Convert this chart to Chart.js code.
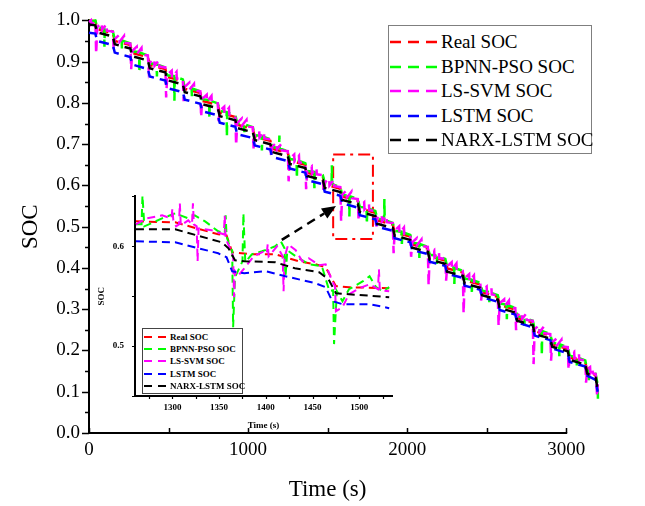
<!DOCTYPE html>
<html>
<head>
<meta charset="utf-8">
<title>SOC estimation</title>
<script src="https://cdn.jsdelivr.net/npm/chart.js@4.4.1/dist/chart.umd.min.js"></script>
<style>
  body { margin: 0; background: #fff; }
  #wrap { position: relative; width: 645px; height: 506px; }
  #wrap canvas { position: absolute; }
  .legend { position: absolute; background: #fff; font-family: "Liberation Serif", serif; color: #000; }
  .legend .row { position: absolute; display: flex; align-items: center; white-space: nowrap; transform: translateY(-50%); }
  .legend svg { display: block; }
  #mainLegend { left: 388px; top: 25px; width: 202px; height: 127px; border: 1px solid #7f7f7f; font-size: 19px; }
  #insetLegend { left: 142px; top: 328px; width: 99px; height: 64px; border: 1px solid #444; font-size: 9px; font-weight: bold; }
</style>
</head>
<body>
<div id="wrap">
  <canvas id="main" width="645" height="506" style="left:0;top:0"></canvas>
  <canvas id="inset" width="310" height="260" style="left:95px;top:180px"></canvas>
  <div id="mainLegend" class="legend"></div>
  <div id="insetLegend" class="legend"></div>
</div>
<script>
// ---- main chart data (time in s, SOC) ----
const mainTime = [0, 40, 52, 150, 162, 260, 272, 370, 382, 480, 492, 590, 602, 700, 712, 810, 822, 920, 932,
  1030, 1042, 1140, 1152, 1250, 1262, 1360, 1372, 1470, 1482, 1580, 1592, 1690, 1702, 1800, 1812, 1910, 1922,
  2020, 2032, 2130, 2142, 2240, 2252, 2350, 2362, 2460, 2472, 2570, 2582, 2680, 2692, 2790, 2802, 2900, 2912,
  3010, 3022, 3120, 3132, 3185, 3198];
const realSoc = [1.000, 0.998, 0.979, 0.969, 0.950, 0.940, 0.921, 0.911, 0.892, 0.882, 0.863, 0.853, 0.834, 0.824, 0.805,
  0.795, 0.776, 0.766, 0.747, 0.737, 0.718, 0.708, 0.689, 0.679, 0.660, 0.650, 0.631, 0.621, 0.602, 0.592, 0.573,
  0.563, 0.544, 0.534, 0.515, 0.505, 0.486, 0.476, 0.457, 0.447, 0.428, 0.418, 0.399, 0.389, 0.370, 0.360, 0.341,
  0.330, 0.310, 0.299, 0.279, 0.268, 0.247, 0.236, 0.215, 0.204, 0.183, 0.172, 0.150, 0.140, 0.112];
const narxSoc = [0.990, 0.988, 0.971, 0.961, 0.942, 0.932, 0.913, 0.903, 0.884, 0.874, 0.855, 0.845, 0.826, 0.816, 0.797,
  0.787, 0.768, 0.758, 0.739, 0.729, 0.710, 0.700, 0.681, 0.671, 0.652, 0.642, 0.623, 0.613, 0.594, 0.584, 0.565,
  0.555, 0.536, 0.526, 0.507, 0.497, 0.478, 0.468, 0.449, 0.439, 0.420, 0.410, 0.391, 0.381, 0.362, 0.352, 0.334,
  0.323, 0.303, 0.292, 0.272, 0.261, 0.240, 0.229, 0.209, 0.198, 0.177, 0.166, 0.144, 0.134, 0.106];
const lstmSoc = [0.970, 0.968, 0.950, 0.940, 0.922, 0.911, 0.893, 0.882, 0.864, 0.854, 0.836, 0.826, 0.808, 0.798, 0.780,
  0.770, 0.752, 0.742, 0.724, 0.715, 0.697, 0.687, 0.669, 0.659, 0.641, 0.631, 0.613, 0.603, 0.585, 0.575, 0.557,
  0.546, 0.528, 0.518, 0.500, 0.490, 0.472, 0.462, 0.443, 0.434, 0.415, 0.405, 0.386, 0.376, 0.357, 0.347, 0.329,
  0.318, 0.298, 0.287, 0.268, 0.256, 0.236, 0.225, 0.205, 0.193, 0.172, 0.161, 0.139, 0.129, 0.100];

const bpnnTime = [0, 20, 40, 52,
  95, 97, 99, 150, 162, 205, 207, 209, 260, 272, 315, 317, 319, 370, 382, 425, 427, 429, 480, 492,
  535, 537, 539, 590, 602, 645, 647, 649, 700, 712, 755, 757, 759, 810, 822, 865, 867, 869, 920, 932,
  975, 977, 979, 1030, 1042, 1085, 1087, 1089, 1140, 1152, 1195, 1197, 1199, 1250, 1262,
  1305, 1307, 1309, 1360, 1372, 1415, 1417, 1419, 1470, 1482, 1525, 1527, 1529, 1580, 1592,
  1635, 1637, 1639, 1690, 1702, 1745, 1747, 1749, 1800, 1812, 1855, 1857, 1859, 1910, 1922,
  1965, 1967, 1969, 2020, 2032, 2075, 2077, 2079, 2130, 2142, 2185, 2187, 2189, 2240, 2252,
  2295, 2297, 2299, 2350, 2362, 2405, 2407, 2409, 2460, 2472, 2515, 2517, 2519, 2570, 2582,
  2625, 2627, 2629, 2680, 2692, 2735, 2737, 2739, 2790, 2802, 2845, 2847, 2849, 2900, 2912,
  2955, 2957, 2959, 3010, 3022, 3065, 3067, 3069, 3120, 3132, 3140, 3142, 3144, 3185, 3198, 3200];
const bpnnSoc = [1.000, 0.998, 1.000, 0.983,
  0.981, 0.936, 0.980, 0.973, 0.954, 0.952, 0.932, 0.951, 0.944, 0.925, 0.923, 0.873, 0.922, 0.915, 0.896,
  0.894, 0.864, 0.893, 0.886, 0.867, 0.865, 0.805, 0.864, 0.857, 0.838, 0.836, 0.816, 0.835, 0.828, 0.809,
  0.807, 0.762, 0.806, 0.799, 0.780, 0.778, 0.718, 0.777, 0.770, 0.751, 0.749, 0.729, 0.748, 0.741, 0.722,
  0.720, 0.685, 0.719, 0.712, 0.693, 0.691, 0.721, 0.690, 0.683, 0.664,
  0.662, 0.617, 0.661, 0.654, 0.635, 0.633, 0.593, 0.632, 0.625, 0.606, 0.604, 0.649, 0.603, 0.596, 0.577,
  0.575, 0.525, 0.574, 0.567, 0.548, 0.546, 0.506, 0.545, 0.538, 0.519, 0.517, 0.567, 0.516, 0.509, 0.490,
  0.488, 0.458, 0.487, 0.480, 0.461, 0.459, 0.424, 0.458, 0.451, 0.432, 0.430, 0.410, 0.429, 0.422, 0.403,
  0.401, 0.361, 0.400, 0.393, 0.374, 0.372, 0.342, 0.371, 0.364, 0.345, 0.342, 0.317, 0.341, 0.334, 0.314,
  0.311, 0.276, 0.310, 0.303, 0.283, 0.280, 0.260, 0.279, 0.272, 0.251, 0.248, 0.188, 0.247, 0.240, 0.219,
  0.216, 0.186, 0.215, 0.208, 0.187, 0.184, 0.164, 0.183, 0.176, 0.154, 0.152, 0.122, 0.151, 0.144, 0.116, 0.075];

const lssvmTime = [0, 12, 14, 40, 45, 52,
  80, 82, 110, 112, 150, 155, 162, 190, 192, 220, 222, 260, 265, 272,
  300, 302, 330, 332, 370, 375, 382, 410, 412, 440, 442, 480, 485, 492,
  520, 522, 550, 552, 590, 595, 602, 630, 632, 660, 662, 700, 705, 712,
  740, 742, 770, 772, 810, 815, 822, 850, 852, 880, 882, 920, 925, 932,
  960, 962, 990, 992, 1030, 1035, 1042, 1070, 1072, 1100, 1102, 1140, 1145, 1152,
  1180, 1182, 1210, 1212, 1250, 1255, 1262, 1290, 1292, 1320, 1322, 1360, 1365, 1372,
  1400, 1402, 1430, 1432, 1470, 1475, 1482, 1510, 1512, 1540, 1542, 1580, 1585, 1592,
  1620, 1622, 1650, 1652, 1690, 1695, 1702, 1730, 1732, 1760, 1762, 1800, 1805, 1812,
  1840, 1842, 1870, 1872, 1910, 1915, 1922, 1950, 1952, 1980, 1982, 2020, 2025, 2032,
  2060, 2062, 2090, 2092, 2130, 2135, 2142, 2170, 2172, 2200, 2202, 2240, 2245, 2252,
  2280, 2282, 2310, 2312, 2350, 2355, 2362, 2390, 2392, 2420, 2422, 2460, 2465, 2472,
  2500, 2502, 2530, 2532, 2570, 2575, 2582, 2610, 2612, 2640, 2642, 2680, 2685, 2692,
  2720, 2722, 2750, 2752, 2790, 2795, 2802, 2830, 2832, 2860, 2862, 2900, 2905, 2912,
  2940, 2942, 2970, 2972, 3010, 3015, 3022, 3050, 3052, 3080, 3082, 3120, 3125, 3132,
  3150, 3152, 3165, 3167, 3185, 3195, 3198];
const lssvmSoc = [0.996, 1.000, 0.990, 0.998, 0.919, 0.984,
  0.994, 0.977, 0.991, 0.975, 0.973, 0.930, 0.955, 0.965, 0.948, 0.962, 0.946, 0.944, 0.881, 0.926,
  0.936, 0.919, 0.933, 0.917, 0.915, 0.882, 0.897, 0.907, 0.890, 0.904, 0.888, 0.886, 0.813, 0.868,
  0.878, 0.861, 0.875, 0.859, 0.857, 0.804, 0.839, 0.849, 0.832, 0.846, 0.830, 0.828, 0.765, 0.810,
  0.820, 0.803, 0.817, 0.801, 0.799, 0.756, 0.781, 0.791, 0.774, 0.788, 0.772, 0.770, 0.697, 0.752,
  0.762, 0.745, 0.759, 0.743, 0.741, 0.688, 0.723, 0.733, 0.716, 0.730, 0.714, 0.712, 0.669, 0.694,
  0.704, 0.687, 0.701, 0.685, 0.683, 0.610, 0.665, 0.675, 0.658, 0.672, 0.656, 0.654, 0.591, 0.636,
  0.646, 0.629, 0.643, 0.627, 0.625, 0.582, 0.607, 0.617, 0.600, 0.614, 0.598, 0.596, 0.513, 0.578,
  0.588, 0.571, 0.585, 0.569, 0.567, 0.514, 0.549, 0.559, 0.542, 0.556, 0.540, 0.538, 0.495, 0.520,
  0.530, 0.513, 0.527, 0.511, 0.509, 0.436, 0.491, 0.501, 0.484, 0.498, 0.482, 0.480, 0.427, 0.462,
  0.472, 0.455, 0.469, 0.453, 0.451, 0.358, 0.433, 0.443, 0.426, 0.440, 0.424, 0.422, 0.369, 0.404,
  0.414, 0.397, 0.411, 0.395, 0.393, 0.290, 0.375, 0.385, 0.368, 0.382, 0.366, 0.364, 0.321, 0.346,
  0.355, 0.338, 0.352, 0.336, 0.334, 0.260, 0.315, 0.324, 0.307, 0.321, 0.305, 0.303, 0.249, 0.284,
  0.293, 0.276, 0.290, 0.274, 0.272, 0.167, 0.252, 0.261, 0.244, 0.258, 0.242, 0.240, 0.175, 0.220,
  0.229, 0.212, 0.226, 0.210, 0.208, 0.153, 0.188, 0.197, 0.180, 0.194, 0.178, 0.176, 0.122, 0.155,
  0.160, 0.147, 0.158, 0.145, 0.143, 0.088, 0.118];

// ---- zoomed-in window (inset) ----
const inRealTime = [1261, 1303, 1349, 1358, 1364, 1385, 1410, 1435, 1453, 1464, 1475, 1489, 1532];
const inRealSoc = [0.625, 0.624, 0.612, 0.611, 0.594, 0.592, 0.592, 0.585, 0.582, 0.579, 0.560, 0.559, 0.558];
const inNarxTime = [1261, 1303, 1353, 1360, 1367, 1377, 1410, 1431, 1457, 1467, 1475, 1489, 1532];
const inNarxSoc = [0.617, 0.617, 0.604, 0.598, 0.586, 0.585, 0.584, 0.578, 0.574, 0.567, 0.553, 0.552, 0.549];
const inLstmTime = [1261, 1303, 1349, 1358, 1364, 1377, 1400, 1421, 1453, 1464, 1471, 1482, 1511, 1532];
const inLstmSoc = [0.605, 0.604, 0.593, 0.589, 0.575, 0.573, 0.575, 0.570, 0.563, 0.559, 0.545, 0.542, 0.542, 0.538];
const inBpnnTime = [1261, 1267, 1268, 1270, 1289, 1303, 1317, 1324, 1335, 1349, 1356, 1357, 1358, 1362, 1364,
  1365, 1367, 1375, 1376, 1378, 1385, 1396, 1410, 1416, 1420, 1421, 1423, 1432, 1446, 1460,
  1468, 1472, 1473, 1476, 1482, 1489, 1504, 1511, 1518, 1525, 1532];
const inBpnnSoc = [0.622, 0.622, 0.651, 0.620, 0.628, 0.633, 0.628, 0.631, 0.625, 0.615, 0.613, 0.631, 0.610, 0.598, 0.596,
  0.519, 0.569, 0.585, 0.633, 0.584, 0.592, 0.595, 0.600, 0.605, 0.598, 0.569, 0.596, 0.590, 0.582, 0.580,
  0.555, 0.556, 0.502, 0.555, 0.545, 0.557, 0.565, 0.570, 0.559, 0.555, 0.559];
const inLssvmTime = [1261, 1272, 1289, 1299, 1300, 1301, 1304, 1307, 1308, 1309, 1317, 1321, 1322, 1323, 1326,
  1327, 1328, 1342, 1355, 1356, 1357, 1362, 1365, 1366, 1367, 1370, 1377, 1387, 1398, 1401,
  1402, 1403, 1412, 1418, 1419, 1420, 1424, 1432, 1439, 1446, 1457, 1464, 1471, 1474, 1475,
  1482, 1489, 1500, 1511, 1520, 1521, 1522, 1532];
const inLssvmSoc = [0.622, 0.628, 0.631, 0.628, 0.638, 0.626, 0.620, 0.622, 0.643, 0.621, 0.626, 0.622, 0.643, 0.622, 0.620,
  0.585, 0.618, 0.616, 0.612, 0.631, 0.608, 0.597, 0.590, 0.549, 0.575, 0.570, 0.578, 0.590, 0.595, 0.593,
  0.602, 0.590, 0.600, 0.590, 0.555, 0.589, 0.602, 0.596, 0.585, 0.588, 0.581, 0.582, 0.565, 0.560, 0.535,
  0.539, 0.552, 0.558, 0.562, 0.557, 0.577, 0.556, 0.555];

const seriesLabels = ['Real SOC', 'BPNN-PSO SOC', 'LS-SVM SOC', 'LSTM SOC', 'NARX-LSTM SOC'];
const seriesColors = ['#ff0000', '#00ff00', '#ff00ff', '#0000ff', '#000000'];

// tick labels and tick marks
const mainXLabels = [0, 1000, 2000, 3000];
const mainYLabels = [0, 0.1, 0.2, 0.3, 0.4, 0.5, 0.6, 0.7, 0.8, 0.9, 1.0];
const mainXTicks = [0, 500, 1000, 1500, 2000, 2500, 3000];
const mainYMinor = [0.05, 0.15, 0.25, 0.35, 0.45, 0.55, 0.65, 0.75, 0.85, 0.95];
const insetXLabels = [1300, 1350, 1400, 1450, 1500];
const insetYLabels = [0.5, 0.6];
const insetXTicks = [1275, 1300, 1325, 1350, 1375, 1400, 1425, 1450, 1475, 1500, 1525];
const insetYTicks = [0.45, 0.5, 0.55, 0.6, 0.65];

// zoom window marker and arrow in main-chart data units
const boxTime = [1535, 1785];
const boxSoc = [0.47, 0.675];
const arrowTime = [1212, 1553];
const arrowSoc = [0.468, 0.550];

const serif = 'Liberation Serif';
const pts = (t, v) => t.map((x, i) => ({ x, y: v[i] }));
const fixTicks = vals => s => { s.ticks = vals.map(v => ({ value: v })); };

// x axis line and title (up to the last labelled value) and small tick marks
const axisTicks = {
  id: 'axisTicks',
  afterDraw(chart, args, o) {
    const { ctx, chartArea: a, scales: { x, y } } = chart;
    const yb = Math.round(a.bottom);
    const xe = x.getPixelForValue(o.xEnd);
    ctx.save();
    ctx.strokeStyle = '#000';
    ctx.lineWidth = 2;
    ctx.beginPath();
    ctx.moveTo(a.left - 1, yb);
    ctx.lineTo(xe + 1, yb);
    ctx.stroke();
    ctx.lineWidth = o.width;
    ctx.beginPath();
    o.x.forEach(([vals, len]) => vals.forEach(v => {
      const p = Math.round(x.getPixelForValue(v)) + 0.5;
      ctx.moveTo(p, yb); ctx.lineTo(p, yb + len);
    }));
    o.y.forEach(([vals, len]) => vals.forEach(v => {
      const p = Math.round(y.getPixelForValue(v)) + 0.5;
      ctx.moveTo(a.left, p); ctx.lineTo(a.left - len, p);
    }));
    ctx.stroke();
    if (o.title) {
      ctx.fillStyle = '#000';
      ctx.font = o.title.font;
      ctx.textAlign = 'center';
      ctx.textBaseline = 'middle';
      ctx.fillText(o.title.text, (a.left + xe) / 2, o.title.y);
    }
    ctx.restore();
  }
};

const zoomMark = {
  id: 'zoomMark',
  beforeDatasetsDraw(chart) {
    const { ctx, scales: { x, y } } = chart;
    const x0 = x.getPixelForValue(boxTime[0]), x1 = x.getPixelForValue(boxTime[1]);
    const y0 = y.getPixelForValue(boxSoc[1]), y1 = y.getPixelForValue(boxSoc[0]);
    ctx.save();
    ctx.strokeStyle = '#ff0000';
    ctx.lineWidth = 2;
    ctx.setLineDash([12, 5, 3, 5]);
    ctx.strokeRect(x0, y0, x1 - x0, y1 - y0);
    ctx.restore();
  },
  afterDatasetsDraw(chart) {
    const { ctx, scales: { x, y } } = chart;
    const ax = x.getPixelForValue(arrowTime[0]), ay = y.getPixelForValue(arrowSoc[0]);
    const bx = x.getPixelForValue(arrowTime[1]), by = y.getPixelForValue(arrowSoc[1]);
    const ang = Math.atan2(by - ay, bx - ax);
    const head = 14, half = 6;
    const hx = bx - head * Math.cos(ang), hy = by - head * Math.sin(ang);
    ctx.save();
    ctx.strokeStyle = '#000';
    ctx.fillStyle = '#000';
    ctx.lineWidth = 2.5;
    ctx.setLineDash([9, 6]);
    ctx.beginPath(); ctx.moveTo(ax, ay); ctx.lineTo(hx, hy); ctx.stroke();
    ctx.setLineDash([]);
    ctx.beginPath();
    ctx.moveTo(bx, by);
    ctx.lineTo(hx + half * Math.sin(ang), hy - half * Math.cos(ang));
    ctx.lineTo(hx - half * Math.sin(ang), hy + half * Math.cos(ang));
    ctx.closePath();
    ctx.fill();
    ctx.restore();
  }
};

function htmlLegend(el, chart, o) {
  el.innerHTML = '';
  chart.data.datasets.forEach((ds, i) => {
    const row = document.createElement('div');
    row.className = 'row';
    row.style.left = o.left + 'px';
    row.style.top = (o.first + i * o.step) + 'px';
    row.innerHTML = '<svg width="' + o.line + '" height="6"><line x1="0" y1="3" x2="' + o.line + '" y2="3" stroke="' +
      ds.borderColor + '" stroke-width="' + o.width + '" stroke-dasharray="' + o.dash + '"/></svg>' +
      '<span style="margin-left:' + o.gap + 'px">' + ds.label + '</span>';
    el.appendChild(row);
  });
}

function lineSet(i, data, width, dash, clip) {
  return {
    label: seriesLabels[i], data, borderColor: seriesColors[i], backgroundColor: seriesColors[i],
    borderWidth: width, borderDash: dash, pointRadius: 0, fill: false, tension: 0, clip, order: 5 - i
  };
}

const mainChart = new Chart(document.getElementById('main'), {
  type: 'line',
  data: {
    datasets: [
      lineSet(0, pts(mainTime, realSoc), 2.5, [10, 6], false),
      lineSet(1, pts(bpnnTime, bpnnSoc), 2.5, [10, 6], false),
      lineSet(2, pts(lssvmTime, lssvmSoc), 2.5, [10, 6], false),
      lineSet(3, pts(mainTime, lstmSoc), 2.5, [10, 6], false),
      lineSet(4, pts(mainTime, narxSoc), 2.5, [10, 6], false)
    ]
  },
  options: {
    responsive: false,
    animation: false,
    events: [],
    // the scale runs to 3200 s so the last samples show; axis line, labels and title stop at 3000 s
    layout: { padding: { left: 0, top: 17, right: 47, bottom: 0 } },
    plugins: {
      legend: { display: false },
      tooltip: { enabled: false },
      axisTicks: {
        width: 1.5, xEnd: 3000, x: [[mainXTicks, -5]], y: [[mainYLabels, 7], [mainYMinor, 4]],
        title: { text: 'Time (s)', font: '23px "Liberation Serif"', y: 490 }
      }
    },
    scales: {
      x: {
        type: 'linear', min: 0, max: 3200,
        afterBuildTicks: fixTicks(mainXLabels),
        grid: { display: true, drawOnChartArea: false, drawTicks: false },
        border: { display: false },
        ticks: { padding: 6, maxRotation: 0, autoSkip: false, color: '#000',
          font: { family: serif, size: 19 }, callback: v => String(v) },
        afterFit: s => { s.height = 73; }
      },
      y: {
        min: 0, max: 1,
        afterBuildTicks: fixTicks(mainYLabels),
        grid: { display: true, drawOnChartArea: false, drawTicks: false },
        border: { color: '#000', width: 2 },
        ticks: { padding: 9, color: '#000', font: { family: serif, size: 19 },
          callback: v => v.toFixed(1) },
        title: { display: true, text: 'SOC', color: '#000', font: { family: serif, size: 23 }, padding: { top: 17, bottom: 0 } },
        afterFit: s => { s.width = 89; }
      }
    }
  },
  plugins: [axisTicks, zoomMark]
});

const insetChart = new Chart(document.getElementById('inset'), {
  type: 'line',
  data: {
    datasets: [
      lineSet(0, pts(inRealTime, inRealSoc), 2, [8, 5], true),
      lineSet(1, pts(inBpnnTime, inBpnnSoc), 2, [8, 5], true),
      lineSet(2, pts(inLssvmTime, inLssvmSoc), 2, [8, 5], true),
      lineSet(3, pts(inLstmTime, inLstmSoc), 2, [8, 5], true),
      lineSet(4, pts(inNarxTime, inNarxSoc), 2, [8, 5], true)
    ]
  },
  options: {
    responsive: false,
    animation: false,
    events: [],
    layout: { padding: { left: 0, top: 14, right: 13, bottom: 0 } },
    plugins: {
      legend: { display: false },
      tooltip: { enabled: false },
      axisTicks: { width: 1.2, xEnd: 1535, x: [[insetXTicks, 3]], y: [[insetYTicks, 3]] }
    },
    scales: {
      x: {
        type: 'linear', min: 1260, max: 1535,
        afterBuildTicks: fixTicks(insetXLabels),
        grid: { display: true, drawOnChartArea: false, drawTicks: false },
        border: { display: false },
        ticks: { padding: 6, maxRotation: 0, autoSkip: false, color: '#000',
          font: { family: serif, size: 9, weight: 'bold' }, callback: v => String(v) },
        title: { display: true, text: 'Time (s)', color: '#000', font: { family: serif, size: 9, weight: 'bold' }, padding: { top: 0, bottom: 9 } },
        afterFit: s => { s.height = 44; }
      },
      y: {
        min: 0.45, max: 0.65,
        afterBuildTicks: fixTicks(insetYLabels),
        grid: { display: true, drawOnChartArea: false, drawTicks: false },
        border: { color: '#000', width: 2 },
        ticks: { padding: 11, color: '#000',
          font: { family: serif, size: 9, weight: 'bold' }, callback: v => v.toFixed(1) },
        title: { display: true, text: 'SOC', color: '#000', font: { family: serif, size: 9, weight: 'bold' }, padding: { top: 1, bottom: 0 } },
        afterFit: s => { s.width = 40; }
      }
    }
  },
  plugins: [axisTicks]
});

htmlLegend(document.getElementById('mainLegend'), mainChart,
  { left: 1, first: 16, step: 24.5, line: 47, width: 2.5, dash: '11 7', gap: 4 });
htmlLegend(document.getElementById('insetLegend'), insetChart,
  { left: 1, first: 8, step: 12.2, line: 22, width: 2, dash: '8 6', gap: 4 });
</script>
</body>
</html>
